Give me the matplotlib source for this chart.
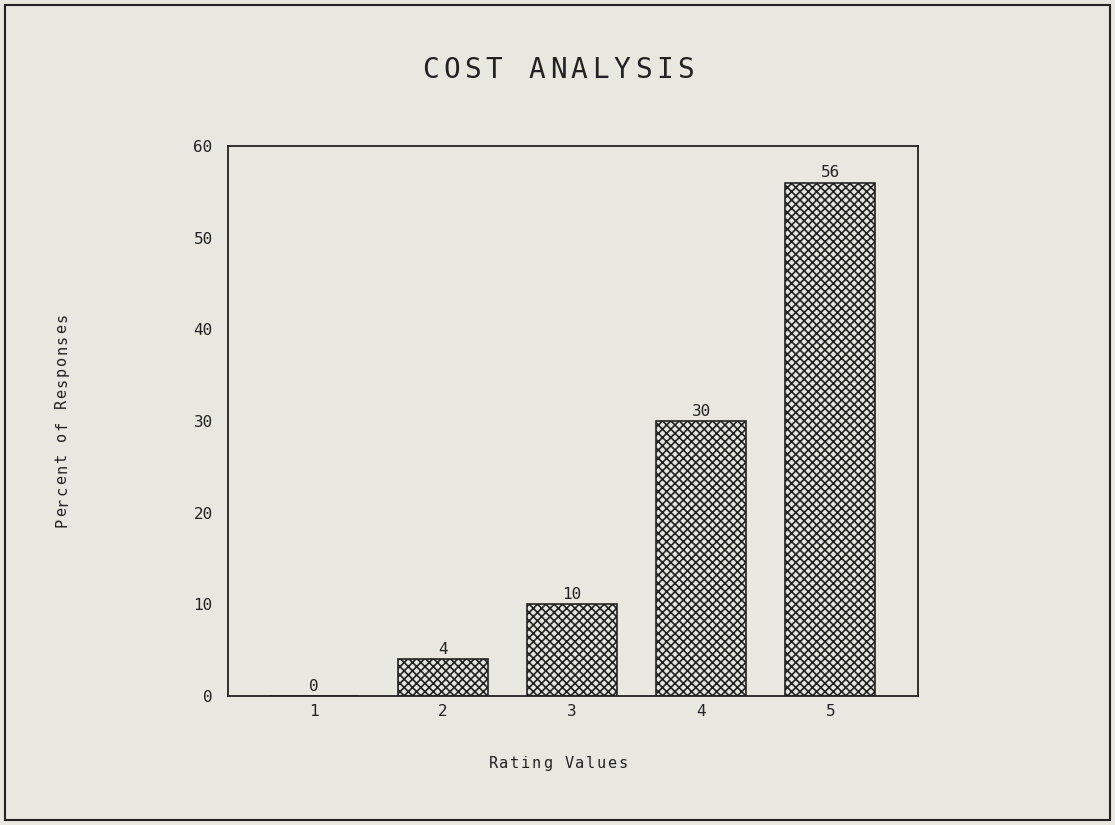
import matplotlib
matplotlib.use("Agg")
import matplotlib.pyplot as plt
from matplotlib.patches import Rectangle

categories = ["1", "2", "3", "4", "5"]
values = [0, 4, 10, 30, 56]
y_ticks = [0, 10, 20, 30, 40, 50, 60]
title = "COST ANALYSIS"
xlabel = "Rating Values"
ylabel = "Percent of Responses"

bg = "#e8e8e1"
ink = "#222222"
mono = "DejaVu Sans Mono"
W, H = 1115, 825
fig = plt.figure(figsize=(W/100, H/100), dpi=100, facecolor=bg)
plt.rcParams['hatch.linewidth'] = 1.2
plt.rcParams['hatch.color'] = "#2a2a2a"

# outer frame
fig.patches.append(Rectangle((5/W, 5/H), 1105/W, 815/H, transform=fig.transFigure,
                             fill=False, edgecolor=ink, linewidth=1.5))

ax = fig.add_axes([228/W, 1-696/H, 690/W, 550/H], facecolor=bg)
x = list(range(1, len(categories)+1))
ax.bar(x, values, width=0.7, color="#e6e6e0", edgecolor=ink,
       hatch="xxxx", linewidth=1.2)
for xi, v in zip(x, values):
    ax.text(xi, v + 0.25, str(v), ha="center", va="bottom",
            fontsize=11.5, family=mono, color=ink)

ax.set_xlim(0.333, 5.68)
ax.set_ylim(0, 60)
ax.set_xticks(x)
ax.set_xticklabels(categories)
ax.set_yticks(y_ticks)
ax.tick_params(axis="y", length=0, pad=11, labelsize=11.5, colors=ink)
ax.tick_params(axis="x", length=0, pad=6, labelsize=11.5, colors=ink)
for lab in ax.get_xticklabels() + ax.get_yticklabels():
    lab.set_family(mono)
for s in ax.spines.values():
    s.set_color(ink)
    s.set_linewidth(1.3)


def spaced_text(s, cx, cy, advance, size, vertical=False):
    """Place monospaced text with a wider letter advance (pixel units)."""
    n = len(s)
    start = -advance * (n - 1) / 2.0
    for i, ch in enumerate(s):
        if ch == " ":
            continue
        off = start + i * advance
        if vertical:
            px, py = cx, cy + off
            fig.text(px / W, py / H, ch, rotation=90, rotation_mode="anchor",
                     ha="center", va="baseline", fontsize=size, family=mono, color=ink)
        else:
            px, py = cx + off, cy
            fig.text(px / W, py / H, ch, ha="center", va="baseline",
                     fontsize=size, family=mono, color=ink, fontweight="light")


# title: baseline at y=78 px from top
spaced_text(title, 558, H - 78, 21.3, 20)
# x label: baseline at y=768 px from top
spaced_text(xlabel, 558, H - 768, 10.8, 11)
# y label: vertical, baseline at x=66 px
spaced_text(ylabel, 66, H - 420, 10.8, 11, vertical=True)

fig.savefig("out.png", dpi=100, facecolor=bg)
